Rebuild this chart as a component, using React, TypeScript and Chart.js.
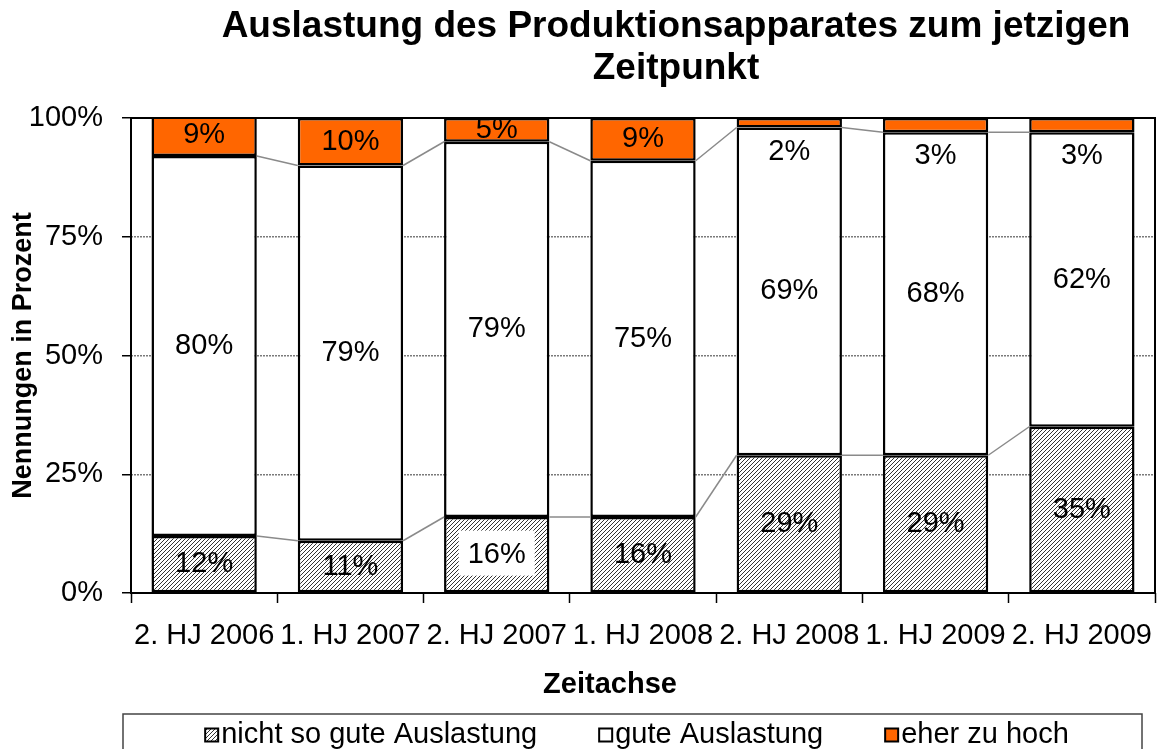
import React, { useEffect, useRef } from "react";
import { Chart, registerables } from "chart.js";

Chart.register(...registerables);

const categories = [
  "2. HJ 2006",
  "1. HJ 2007",
  "2. HJ 2007",
  "1. HJ 2008",
  "2. HJ 2008",
  "1. HJ 2009",
  "2. HJ 2009",
];
const nichtSoGut = [12, 11, 16, 16, 29, 29, 35];
const gute = [80, 79, 79, 75, 69, 68, 62];
const eherZuHoch = [9, 10, 5, 9, 2, 3, 3];
const seriesNames = ["nicht so gute Auslastung", "gute Auslastung", "eher zu hoch"];
const titleLines = ["Auslastung des Produktionsapparates zum jetzigen", "Zeitpunkt"];
const yAxisTitle = "Nennungen in Prozent";
const xAxisTitle = "Zeitachse";

const FONT = "'Liberation Sans', Arial, Helvetica, sans-serif";
const ORANGE = "#FF6600";

function makeHatch(): CanvasPattern | string {
  const c = document.createElement("canvas");
  c.width = 4;
  c.height = 4;
  const g = c.getContext("2d");
  if (!g) return "#ccc";
  g.fillStyle = "#ffffff";
  g.fillRect(0, 0, 4, 4);
  g.strokeStyle = "#333333";
  g.lineWidth = 1;
  g.beginPath();
  g.moveTo(0, 4);
  g.lineTo(4, 0);
  g.moveTo(-1, 1);
  g.lineTo(1, -1);
  g.moveTo(3, 5);
  g.lineTo(5, 3);
  g.stroke();
  return g.createPattern(c, "repeat") || "#ccc";
}

export default function App() {
  const ref = useRef<HTMLCanvasElement | null>(null);

  useEffect(() => {
    const canvas = ref.current;
    if (!canvas) return;
    const hatch = makeHatch();
    const fills: any[] = [hatch, "#ffffff", ORANGE];

    const seriesLinesPlugin = {
      id: "seriesLines",
      afterDatasetsDraw(chart: any) {
        const ctx = chart.ctx;
        ctx.save();
        ctx.strokeStyle = "#8a8a8a";
        ctx.lineWidth = 1.5;
        for (let d = 0; d < 2; d++) {
          const meta = chart.getDatasetMeta(d);
          for (let i = 0; i < meta.data.length - 1; i++) {
            const a = meta.data[i] as any;
            const b = meta.data[i + 1] as any;
            ctx.beginPath();
            ctx.moveTo(a.x + a.width / 2, a.y);
            ctx.lineTo(b.x - b.width / 2, b.y);
            ctx.stroke();
          }
        }
        // plot frame
        const ca = chart.chartArea;
        ctx.strokeStyle = "#000";
        ctx.lineWidth = 2;
        ctx.strokeRect(ca.left, ca.top, ca.right - ca.left, ca.bottom - ca.top);
        ctx.restore();
      },
    };

    const labelsPlugin = {
      id: "valueLabels",
      afterDatasetsDraw(chart: any) {
        const ctx = chart.ctx;
        ctx.save();
        ctx.font = `29px ${FONT}`;
        ctx.textAlign = "center";
        ctx.textBaseline = "middle";
        chart.data.datasets.forEach((ds: any, di: number) => {
          const meta = chart.getDatasetMeta(di);
          meta.data.forEach((el: any, i: number) => {
            const v = ds.data[i];
            const text = `${v}%`;
            let ty = (el.y + el.base) / 2;
            if (di === 2 && v < 5) ty = el.base + 24;
            if (di === 0 && i === 2) {
              ctx.fillStyle = "#ffffff";
              ctx.fillRect(el.x - 38, ty - 24, 76, 45);
            }
            ctx.fillStyle = "#000";
            ctx.fillText(text, el.x, ty);
          });
        });
        ctx.restore();
      },
    };

    const decorPlugin = {
      id: "decor",
      afterDraw(chart: any) {
        const ctx = chart.ctx;
        const ca = chart.chartArea;
        ctx.save();
        // Title
        ctx.fillStyle = "#000";
        ctx.font = `bold 37px ${FONT}`;
        ctx.textAlign = "center";
        ctx.textBaseline = "middle";
        ctx.fillText(titleLines[0], 676, 27);
        ctx.fillText(titleLines[1], 676, 69);
        // X axis title
        ctx.font = `bold 29px ${FONT}`;
        ctx.fillText(xAxisTitle, 610, 685);

        // Legend
        ctx.strokeStyle = "#444";
        ctx.lineWidth = 1.5;
        ctx.strokeRect(123, 714, 1142 - 123, 80);
        ctx.font = `29px ${FONT}`;
        ctx.textAlign = "left";
        const box = 13;
        const gapBox = 3;
        const gapItem = 62;
        const widths = seriesNames.map((n) => box + gapBox + ctx.measureText(n).width);
        const total = widths.reduce((s, w) => s + w, 0) + gapItem * (seriesNames.length - 1);
        let x = (ca.left + ca.right) / 2 - total / 2 - 6;
        const cy = 735;
        seriesNames.forEach((n, k) => {
          ctx.fillStyle = fills[k];
          ctx.fillRect(x, cy - box / 2, box, box);
          ctx.strokeStyle = "#000";
          ctx.lineWidth = 2;
          ctx.strokeRect(x, cy - box / 2, box, box);
          ctx.fillStyle = "#000";
          ctx.fillText(n, x + box + gapBox, cy);
          x += widths[k] + gapItem;
        });
        ctx.restore();
      },
    };

    const chart = new Chart(canvas, {
      type: "bar",
      data: {
        labels: categories,
        datasets: [
          { label: seriesNames[0], data: nichtSoGut, backgroundColor: hatch as any },
          { label: seriesNames[1], data: gute, backgroundColor: "#ffffff" },
          { label: seriesNames[2], data: eherZuHoch, backgroundColor: ORANGE },
        ].map((d) => ({
          ...d,
          borderColor: "#000",
          borderWidth: 2.5,
          borderSkipped: false as any,
          barPercentage: 0.72,
          categoryPercentage: 1,
        })),
      },
      options: {
        animation: false,
        responsive: false,
        devicePixelRatio: 1,
        layout: { padding: { top: 118, right: 5, left: 0, bottom: 0 } },
        plugins: {
          legend: { display: false },
          title: { display: false },
          tooltip: { enabled: false },
        },
        scales: {
          x: {
            stacked: true,
            offset: true,
            afterFit: (s: any) => {
              s.height = 156;
              s.paddingLeft = 0;
              s.paddingRight = 0;
            },
            grid: {
              display: true,
              offset: true,
              drawOnChartArea: false,
              drawTicks: true,
              tickLength: 10,
              tickColor: "#000",
              tickWidth: 1.5,
            },
            border: { display: false },
            ticks: {
              color: "#000",
              font: { size: 29, family: FONT },
              padding: 16,
              autoSkip: false,
              maxRotation: 0,
              minRotation: 0,
            },
          },
          y: {
            stacked: true,
            min: 0,
            max: 100,
            afterFit: (s: any) => {
              s.width = 131;
              s.paddingTop = 0;
              s.paddingBottom = 0;
            },
            grid: {
              color: "#7a7a7a",
              lineWidth: 1.5,
              drawTicks: true,
              tickLength: 9,
              tickColor: "#000",
              tickWidth: 1.5,
              tickBorderDash: [],
            },
            border: { display: false, dash: [2, 1] },
            ticks: {
              stepSize: 25,
              color: "#000",
              font: { size: 29, family: FONT },
              padding: 19,
              callback: (v: any) => `${v}%`,
            },
            title: {
              display: true,
              text: yAxisTitle,
              color: "#000",
              font: { size: 27, weight: "bold", family: FONT },
              padding: { top: 7, bottom: 0 },
            },
          },
        },
      },
      plugins: [seriesLinesPlugin, labelsPlugin, decorPlugin],
    });

    return () => chart.destroy();
  }, []);

  return (
    <div
      style={{
        position: "absolute",
        left: 0,
        top: 0,
        width: 1160,
        height: 749,
        overflow: "hidden",
        background: "#fff",
      }}
    >
      <canvas ref={ref} width={1160} height={749} style={{ display: "block" }} />
    </div>
  );
}
